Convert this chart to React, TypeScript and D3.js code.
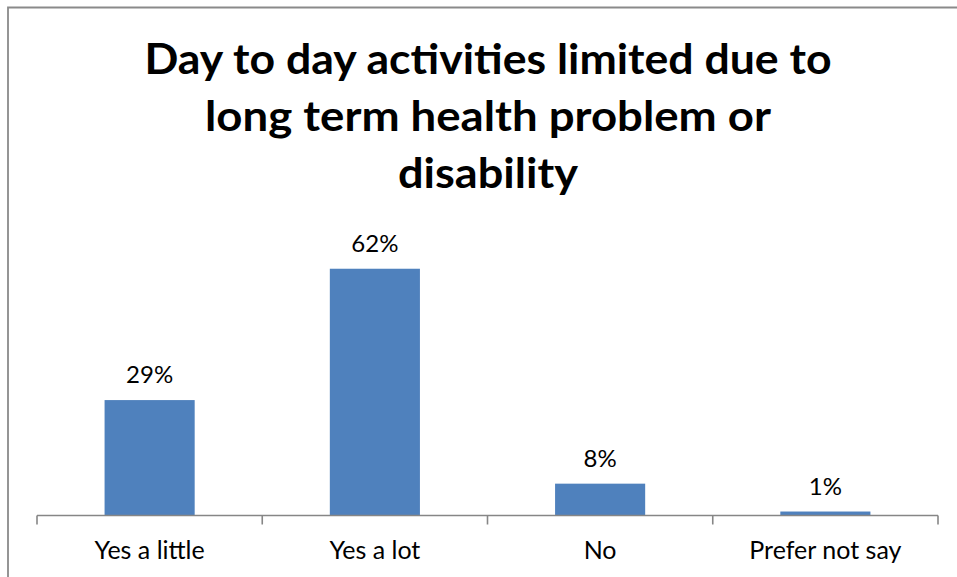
import * as d3 from 'd3';
import { useEffect, useRef } from 'react';

const titleLines = ['Day to day activities limited due to', 'long term health problem or', 'disability'];
const titleWidths = [687, 566, 180];
const categories = ['Yes a little', 'Yes a lot', 'No', 'Prefer not say'];
const values = [0.29, 0.62, 0.08, 0.01];

export default function App() {
    const chartRef = useRef<SVGSVGElement | null>(null);

    useEffect(() => {
        if (!chartRef.current) return;
        d3.select(chartRef.current).selectAll('*').remove();

        const svg = d3.select(chartRef.current);
        const width = 957;
        const height = 577;
        const font = 'Lato, "Open Sans", sans-serif';
        const axisY = 515.5;

        svg.attr('viewBox', `0 0 ${width} ${height}`);

        svg.append('rect')
            .attr('width', width)
            .attr('height', height)
            .attr('fill', '#fff');

        // outer frame (only top and left visible in the crop)
        svg.append('path')
            .attr('d', `M8,${height} V7.5 H${width}`)
            .attr('fill', 'none')
            .attr('stroke', '#8a8a8a')
            .attr('stroke-width', 1.8);

        svg.append('g')
            .selectAll('text')
            .data(titleLines)
            .join('text')
            .attr('x', 488)
            .attr('y', (_, i) => 74 + i * 57)
            .attr('text-anchor', 'middle')
            .attr('textLength', (_, i) => titleWidths[i])
            .attr('lengthAdjust', 'spacingAndGlyphs')
            .style('font-family', font)
            .style('font-weight', 700)
            .style('font-size', '42px')
            .attr('fill', '#000')
            .text((d) => d);

        const x = d3
            .scaleBand()
            .domain(categories)
            .range([37, 938])
            .paddingInner(0.6)
            .paddingOuter(0.3);

        const y = d3.scaleLinear().domain([0, 0.7]).range([axisY, axisY - 0.7 * 398]);

        svg.append('g')
            .selectAll('rect')
            .data(values)
            .join('rect')
            .attr('x', (_, i) => x(categories[i])!)
            .attr('y', (d) => y(d))
            .attr('width', x.bandwidth())
            .attr('height', (d) => y(0) - y(d))
            .attr('fill', '#4f81bd');

        svg.append('g')
            .selectAll('text')
            .data(values)
            .join('text')
            .attr('x', (_, i) => x(categories[i])! + x.bandwidth() / 2)
            .attr('y', (d) => y(d) - 17)
            .attr('text-anchor', 'middle')
            .style('font-family', font)
            .style('font-size', '24px')
            .attr('fill', '#000')
            .text((d) => d3.format('.0%')(d));

        // category axis with ticks at band boundaries
        const step = x.step();
        const x0 = x.range()[0];
        const boundaries = d3.range(categories.length + 1).map((i) => x0 + i * step);
        const axis = svg.append('g').attr('stroke', '#868686').attr('stroke-width', 1.6);
        axis.append('line')
            .attr('x1', x0)
            .attr('x2', x.range()[1])
            .attr('y1', axisY)
            .attr('y2', axisY);
        axis.selectAll('line.tick')
            .data(boundaries)
            .join('line')
            .attr('class', 'tick')
            .attr('x1', (d) => d)
            .attr('x2', (d) => d)
            .attr('y1', axisY)
            .attr('y2', axisY + 9);

        svg.append('g')
            .selectAll('text')
            .data(categories)
            .join('text')
            .attr('x', (d) => x(d)! + x.bandwidth() / 2)
            .attr('y', 559)
            .attr('text-anchor', 'middle')
            .style('font-family', font)
            .style('font-size', '25px')
            .attr('fill', '#000')
            .text((d) => d);
    }, []);

    return (
        <svg
            ref={chartRef}
            width={957}
            height={577}
            style={{ position: 'absolute', left: 0, top: 0, display: 'block' }}
        />
    );
}
